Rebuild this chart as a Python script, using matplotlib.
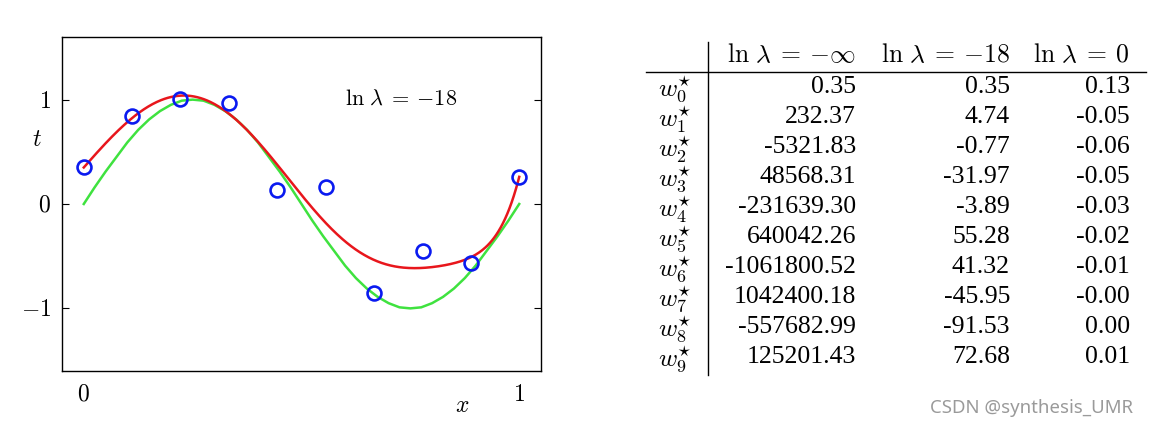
import matplotlib
matplotlib.use('Agg')
import matplotlib.pyplot as plt
import numpy as np

plt.rcParams['mathtext.fontset'] = 'cm'
plt.rcParams['font.family'] = ['Liberation Serif', 'DejaVu Serif']

# ---- data: observed points ----
x_obs = [0.0, 0.111, 0.222, 0.333, 0.444, 0.556, 0.667, 0.778, 0.889, 1.0]
t_obs = [0.35, 0.84, 1.01, 0.97, 0.13, 0.16, -0.85, -0.45, -0.57, 0.26]

# green curve (generating function)
x_true = np.linspace(0, 1, 41)
t_true = [0.0, 0.16, 0.31, 0.45, 0.59, 0.71, 0.81, 0.89, 0.95, 0.99, 1.0,
          0.99, 0.95, 0.89, 0.81, 0.71, 0.59, 0.45, 0.31, 0.16, 0.0,
          -0.16, -0.31, -0.45, -0.59, -0.71, -0.81, -0.89, -0.95, -0.99, -1.0,
          -0.99, -0.95, -0.89, -0.81, -0.71, -0.59, -0.45, -0.31, -0.16, 0.0]

# ---- table of coefficients ----
row_labels = [r'$w_{%d}^{\star}$' % i for i in range(10)]
col_headers = [r'$\ln\,\lambda\:=\:{-\infty}$', r'$\ln\,\lambda\:=\:{-18}$', r'$\ln\,\lambda\:=\:0$']
w_inf = ['0.35', '232.37', '-5321.83', '48568.31', '-231639.30', '640042.26',
         '-1061800.52', '1042400.18', '-557682.99', '125201.43']
w_m18 = ['0.35', '4.74', '-0.77', '-31.97', '-3.89', '55.28',
         '41.32', '-45.95', '-91.53', '72.68']
w_zero = ['0.13', '-0.05', '-0.06', '-0.05', '-0.03', '-0.02',
          '-0.01', '-0.00', '0.00', '0.01']

fig = plt.figure(figsize=(11.5, 4.28), dpi=100)

# ---- left plot ----
ax = fig.add_axes([62/1150, 1 - 371/428, 479/1150, 334/428])
xx = np.linspace(0, 1, 400)
coef = [float(v) for v in w_m18]
ax.plot(x_true, t_true, color='#3fe23f', lw=1.8)
ax.plot(xx, np.polyval(coef[::-1], xx), color='#e8161c', lw=1.8)
ax.plot(x_obs, t_obs, 'o', mfc='none', mec='#0a1af0', mew=1.9, ms=10)
ax.set_xlim(-0.05, 1.05)
ax.set_ylim(-1.6, 1.6)
ax.set_xticks([0, 1])
ax.set_xticklabels(['$0$', '$1$'], fontsize=17)
ax.set_yticks([-1, 0, 1])
ax.set_yticklabels(['$-1$', '$0$', '$1$'], fontsize=17)
ax.tick_params(axis='y', direction='in', length=5, right=True, pad=8)
ax.tick_params(axis='x', length=0, pad=10)
ax.set_xlabel('$x$', fontsize=17)
ax.xaxis.set_label_coords(0.835, -0.075)
ax.set_ylabel('$t$', fontsize=17, rotation=0)
ax.yaxis.set_label_coords(-0.052, 0.66)
ax.text(0.6, 1.0, r'$\ln\,\lambda\:=\:{-18}$', fontsize=16, va='center')
for s in ax.spines.values():
    s.set_linewidth(1.0)

# ---- table (pixel coordinates on an overlay axes) ----
tx = fig.add_axes([0, 0, 1, 1])
tx.set_xlim(0, 1150)
tx.set_ylim(428, 0)
tx.axis('off')
tx.patch.set_visible(False)

col_right = [856, 1010, 1130]
for h, xr in zip(col_headers, col_right):
    tx.text(xr, 55, h, fontsize=18.5, ha='right', va='center')
tx.plot([646, 1146], [72, 72], color='black', lw=1.0)
tx.plot([708, 708], [42, 375], color='black', lw=1.0)
for i in range(10):
    y = 87 + 30 * i
    tx.text(692, y + 2, row_labels[i], fontsize=18.5, ha='right', va='center')
    for col, xr in zip([w_inf, w_m18, w_zero], col_right):
        tx.text(xr, y, col[i], fontsize=18.5, ha='right', va='center')

tx.text(1133, 408, 'CSDN @synthesis_UMR', fontsize=13.4, color='#9a9a9a',
        ha='right', va='center', family='Noto Sans')

fig.savefig('out.png', dpi=100)
